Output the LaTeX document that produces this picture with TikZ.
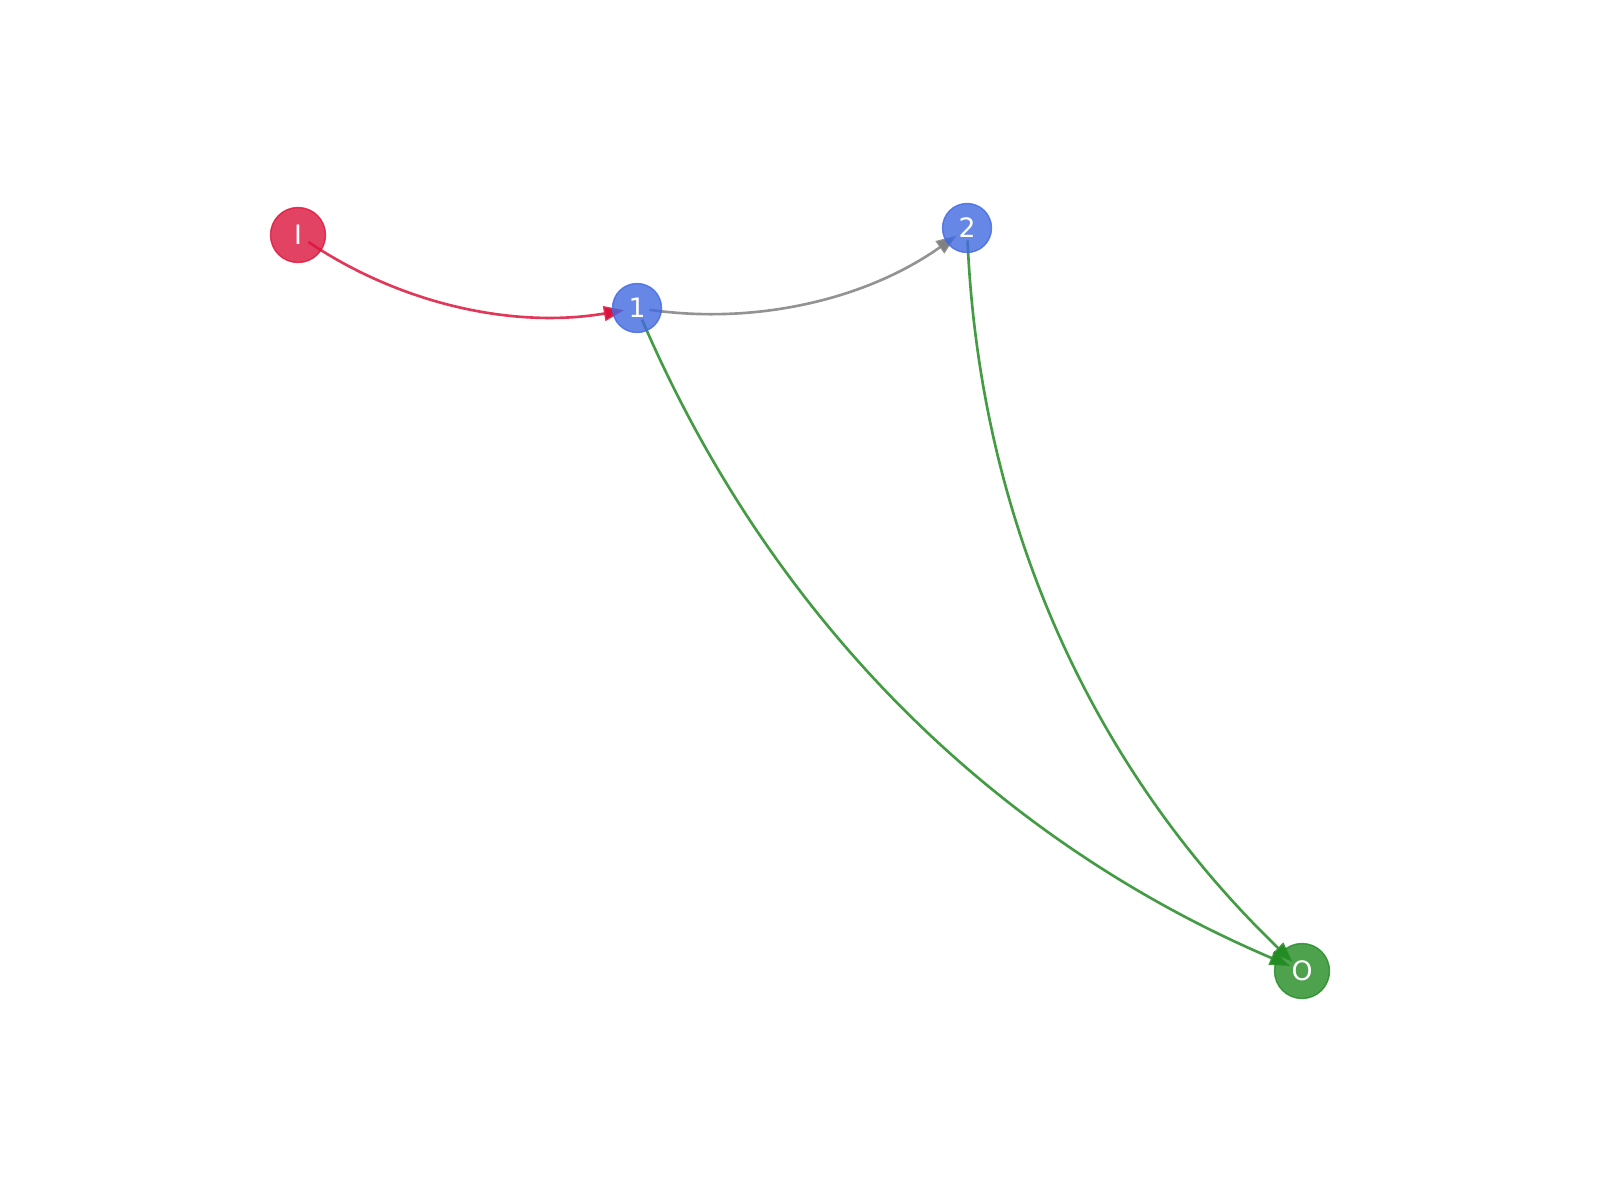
\documentclass[tikz,border=0pt]{standalone}
\usepackage{fontspec}
\setmainfont{DejaVu Sans}
\usetikzlibrary{arrows.meta,calc}
\definecolor{crimsonc}{HTML}{DC143C}
\definecolor{royalc}{HTML}{4169E1}
\definecolor{forestc}{HTML}{228B22}
\definecolor{greyc}{HTML}{808080}
\tikzset{
  vert/.style={circle, inner sep=0pt, fill opacity=0.8, draw opacity=0.8, text opacity=1, text=white, font=\fontsize{7.6}{9}\selectfont},
  edgeline/.style={line width=0.75pt, draw opacity=0.85, -{Triangle[length=5.8pt,width=4.2pt]}, shorten <=0.125cm, shorten >=0.13cm},
}
\newcommand\arcedge[3]{\draw[edgeline,#3] (#1.center) .. controls ($(#1.center)!1/3!(#2.center)!0.2!-90:(#2.center)$) and ($(#1.center)!2/3!(#2.center)!0.4!-90:(#2.center)$) .. (#2.center);}
\begin{document}
\begin{tikzpicture}[x=1cm,y=1cm]
\useasboundingbox (0,0) rectangle (16,12);
\coordinate (cI) at (2.98,9.65);
\coordinate (c1) at (6.37,8.92);
\coordinate (c2) at (9.67,9.72);
\coordinate (cO) at (13.02,2.29);
\node[vert, minimum size=0.55cm] (I) at (cI) {};
\node[vert, minimum size=0.49cm] (n1) at (c1) {};
\node[vert, minimum size=0.49cm] (n2) at (c2) {};
\node[vert, minimum size=0.55cm] (O) at (cO) {};
\arcedge{I}{n1}{crimsonc}
\arcedge{n1}{n2}{greyc}
\arcedge{n1}{O}{forestc}
\arcedge{n2}{O}{forestc}
\node[vert, minimum size=0.55cm, fill=crimsonc, draw=crimsonc] at (cI) {I};
\node[vert, minimum size=0.49cm, fill=royalc, draw=royalc] at (c1) {1};
\node[vert, minimum size=0.49cm, fill=royalc, draw=royalc] at (c2) {2};
\node[vert, minimum size=0.55cm, fill=forestc, draw=forestc] at (cO) {O};
\end{tikzpicture}
\end{document}
